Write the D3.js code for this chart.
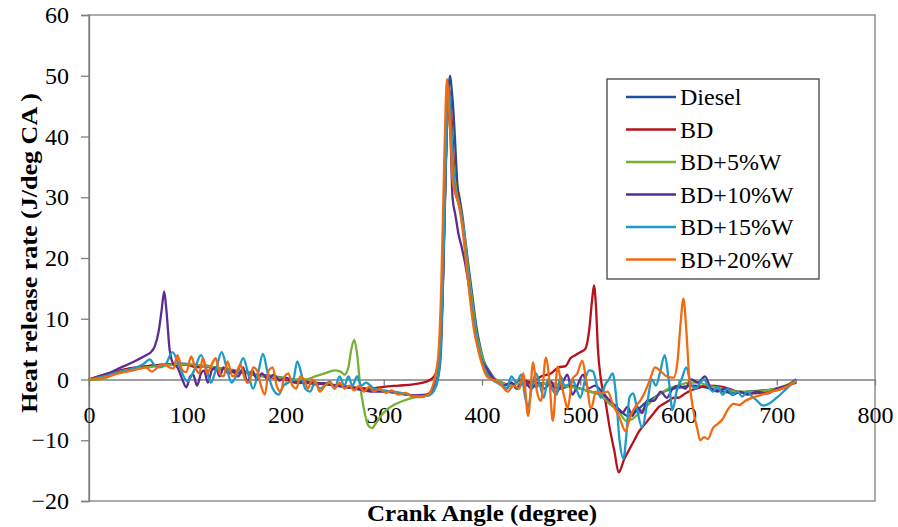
<!DOCTYPE html>
<html lang="en">
  <head>
    <meta charset="utf-8">
    <title>Heat release rate</title>
    <script src="https://cdnjs.cloudflare.com/ajax/libs/d3/7.8.5/d3.min.js"></script>
    <style type="text/css">
      body { margin: 0; background: #fff; }
      svg text { font-family: "Liberation Serif", "Times New Roman", Times, serif; }
    </style>
  </head>
  <body>
    <script type="text/javascript">

    // series: [crank angle, heat release rate]
    var seriesNames = ["Diesel", "BD", "BD+5%W", "BD+10%W", "BD+15%W", "BD+20%W"];
    var seriesColors = ["#1f4e9c", "#b5121b", "#77b035", "#5b2c8f", "#1c9bc9", "#f26a10"];

    var diesel = [[0,0],[10,0.5],[20,1],[35,1.6],[50,2],[65,2.3],[80,2.5],[95,2.6],[110,2.3],[125,2],[140,1.7],[155,1.2],[170,0.8],[185,0.6],[200,0.2],[215,-0.3],[230,-0.5],[245,-0.8],[260,-1.2],[275,-1.6],[290,-1.8],[305,-2],[320,-2.4],[335,-2.7],[345,-2.6],[352,-1.5],[355,0],[358,4],[361,20],[364,40],[366,48],[367.5,50],[369,48],[371,44],[373,38],[375,32],[377,30],[380,27],[383,23],[386,19],[390,14],[394,9],[398,5.5],[402,3],[407,1.5],[412,0.3],[420,-1],[425,-1.5],[430,-0.5],[435,-1.5],[440,-0.5],[445,-1],[450,-0.3],[455,-1.2],[460,-0.6],[470,-1],[480,-1.5],[490,-1],[500,-1.5],[510,-2],[520,-2.5],[530,-4],[540,-5],[548,-6],[555,-5.5],[565,-4],[575,-3],[585,-2],[595,-1.5],[605,-1.2],[615,-1],[625,-1.2],[640,-1.8],[655,-2.2],[670,-2],[685,-1.8],[700,-1.5],[710,-1],[720,0]];

    var bd = [[0,0],[20,1],[40,1.8],[60,2.2],[80,2.5],[100,2.4],[110,2],[120,2.3],[130,1.6],[140,1.8],[150,1],[160,1.3],[170,0.6],[180,0.5],[190,0.2],[200,0],[210,-0.5],[225,-0.6],[240,-0.8],[255,-1],[270,-1.3],[285,-1.5],[300,-1.2],[315,-1],[330,-0.8],[340,-0.5],[348,0],[353,1],[357,5],[360,15],[363,35],[365,45],[366.5,48],[368,46],[370,40],[372,34],[375,31],[378,28],[381,25],[385,19],[389,13],[393,8],[397,5],[402,2.5],[407,1],[413,0],[420,-0.5],[430,-1],[440,0],[450,-0.5],[460,0.5],[470,1],[478,2],[485,2.2],[490,3.5],[495,4],[500,4.5],[505,5],[509,8],[512,13],[514,15.5],[516,12],[518,5],[521,0],[525,-3],[530,-8],[535,-12],[539,-15.3],[545,-13],[550,-11.5],[555,-10],[560,-8.5],[565,-7.5],[570,-6.5],[575,-5.5],[580,-4.5],[585,-4],[590,-3.5],[595,-3],[600,-3],[605,-2.5],[610,-2],[618,-1.5],[630,-1],[645,-1.2],[660,-2],[675,-2.3],[690,-2],[705,-1.5],[720,0]];

    var bd5w = [[0,0],[10,0],[18,0.3],[30,1.2],[50,1.8],[70,2.2],[90,2.5],[105,2.5],[120,2.2],[135,1.8],[150,1.5],[165,1],[180,0.5],[195,0.3],[210,0],[220,0],[230,0.5],[240,1],[250,1.5],[256,1.3],[260,0.8],[264,2],[267,5],[270,6.5],[273,4],[276,-1],[280,-5],[284,-7.5],[288,-8],[292,-7.2],[297,-6],[303,-5],[310,-4.2],[320,-3.5],[330,-3],[340,-2.8],[348,-2.3],[353,-1],[357,3],[360,15],[363,35],[365,43],[367,45],[369,40],[371,35],[374,31],[378,28],[382,24],[386,18],[390,13],[394,8],[398,5],[403,2.5],[408,1],[414,0],[420,-0.5],[430,-1],[440,-0.5],[450,-1],[460,-0.8],[470,-0.5],[480,-1],[490,-1.2],[500,-1.5],[510,-2],[520,-2.5],[530,-4],[540,-5.5],[547,-6.8],[553,-6.5],[560,-5.5],[570,-4],[580,-2.5],[590,-1.5],[600,-1],[610,-0.5],[620,-0.5],[630,-1],[645,-1.5],[660,-2],[675,-2],[690,-1.8],[705,-1.2],[720,-0.3]];

    var bd10w = [[0,0],[10,0.4],[20,1],[30,1.8],[40,2.5],[50,3.3],[58,4],[63,4.5],[67,5.5],[71,8],[74,11.5],[76.5,14.5],[79,11],[82,5],[86,2.5],[90,2],[95,0],[99,-1.3],[103,0.5],[106,0.8],[110,-1],[114,1],[117,1.5],[121,-0.5],[125,1.5],[129,2],[133,0.5],[137,2],[142,1],[147,1.5],[152,0.5],[157,2],[161,-0.5],[166,1.5],[171,0],[176,1],[182,0],[188,0.8],[194,-0.2],[200,0.3],[210,-0.5],[220,-0.3],[230,-0.8],[240,-0.6],[250,-1],[260,-1.2],[270,-1.5],[280,-1.8],[290,-2],[300,-2],[315,-2.3],[330,-2.6],[343,-2.5],[350,-1.5],[354,0],[357,3],[360,15],[363,35],[365,44],[366.5,46],[368,40],[370,30],[373,27],[376,24],[379,22],[383,19],[387,15],[391,10],[395,6],[399,3.5],[404,2],[410,0.5],[416,-0.5],[422,-1],[430,-0.5],[436,-1.5],[443,-0.3],[450,-1.5],[457,-0.5],[464,-1.5],[470,-0.3],[476,-2],[482,-0.5],[487,0.8],[492,-2.5],[497,-1],[503,0.8],[508,-1.5],[515,-1],[522,-2],[530,-3.5],[537,-4.5],[543,-5.5],[548,-4.5],[553,-6],[558,-4.5],[563,-5.5],[568,-3.5],[575,-3.5],[582,-2],[588,-3],[594,-1.5],[600,-1],[607,-1.5],[613,0],[620,-0.5],[627,0.5],[633,-1.5],[640,-2],[647,-1.5],[655,-2.5],[663,-2],[670,-2.5],[680,-2],[690,-2.3],[700,-1.5],[710,-1],[720,-0.5]];

    var bd15w = [[0,0],[15,0.5],[30,1.2],[45,1.8],[55,2.5],[62,3.3],[66,2.5],[72,2],[78,2.5],[85,4.5],[90,3],[95,1],[100,-0.3],[107,1.5],[114,4],[119,2],[124,-0.5],[129,1.5],[135,4.5],[140,2],[145,-0.5],[151,1],[157,3.5],[162,1],[167,-1.5],[172,1],[177,4.2],[182,1],[187,-1.5],[193,-2.5],[198,-1],[203,-0.5],[208,0],[212,3],[216,1],[220,-1.5],[225,-2],[230,-0.5],[235,-1.5],[240,-1],[245,-0.3],[250,-1.5],[255,0.5],[260,-1],[264,0.5],[268,-1],[273,0.5],[277,-1],[282,-0.5],[290,-1.5],[300,-1.8],[310,-2],[320,-2.3],[330,-2.7],[340,-2.8],[348,-2.4],[353,-1],[357,3],[360,15],[363,35],[365,46],[366.5,48],[368,44],[370,36],[373,31],[376,29],[380,26],[384,20],[388,14],[392,9],[396,5.5],[400,3],[405,1],[410,0],[415,-0.5],[420,-0.8],[425,-1.5],[430,0.5],[435,-0.5],[440,0.8],[444,-3],[447,-4.5],[451,-1],[455,1],[459,-1],[463,-3],[467,0],[471,-1.5],[476,-2.5],[480,0.5],[484,-1],[488,-0.8],[492,0],[497,-2],[500,-3],[505,0],[509,1.5],[513,1.3],[517,-1],[521,-3],[525,-1],[529,0],[533,1],[536,-2],[540,-10],[544,-13],[547,-9],[550,-3],[554,-2.3],[558,-5],[563,-8],[568,-4],[573,0],[577,-1],[581,1],[586,4],[590,0],[594,-5],[598,-2],[603,0],[608,2],[613,-1],[618,-1.5],[622,-0.5],[626,0],[630,-1],[635,-2],[640,-1.2],[645,-2.5],[650,-1.5],[655,-2.5],[660,-2],[665,-2.8],[670,-2],[675,-2.8],[680,-3.5],[686,-4.3],[692,-4],[700,-3],[710,-1.5],[720,0]];

    var bd20w = [[0,0],[15,0.3],[30,1],[45,1.5],[58,2],[64,1.3],[70,2],[76,2.5],[82,2],[86,1.8],[90,4],[95,1.5],[99,1.2],[104,3.8],[108,2],[112,1],[116,3.5],[120,1],[125,2.5],[129,3.5],[133,1],[137,0.5],[141,3],[146,0.5],[150,1],[154,2.5],[159,0],[163,-0.5],[167,2],[171,1.5],[175,-1],[179,-2.5],[183,1.5],[187,2],[191,-1],[195,-2],[199,0.5],[203,1],[207,-1],[211,-1.5],[215,0.5],[219,0],[223,-1.5],[227,0],[231,-0.5],[235,-2],[240,-1],[245,-0.5],[250,-1.5],[255,-0.5],[260,-1.5],[265,-1],[270,-1.8],[275,-1],[280,-2],[285,-1.2],[290,-2],[296,-1.5],[302,-2.2],[308,-1.8],[315,-2.5],[322,-2.2],[330,-2.8],[338,-2.8],[345,-2.5],[350,-1],[353,1],[356,5],[358.5,15],[361,32],[363,45],[364.5,49.5],[366,46],[368,40],[370,33],[373,30.5],[376,29],[380,25],[384,19],[388,13],[392,8],[396,5],[400,2.5],[405,0.5],[410,0],[415,-0.3],[420,-1],[426,-2],[432,-1],[438,-1.5],[442,1],[447,-6],[452,2.8],[456,-2],[460,-3.5],[465,3.6],[469,-1],[472,-6.8],[477,2.1],[481,-1],[484,-3],[487,-4.8],[492,0],[497,1],[502,3.1],[506,0],[511,-4.8],[516,-2],[522,-2.3],[528,-2],[533,-4],[540,-6.3],[546,-8.5],[551,-6],[556,-4.5],[561,-3.5],[566,-2],[571,0],[576,2],[581,1.5],[588,0.5],[595,0.3],[599,3],[602,9],[605,13.3],[608,8],[611,0],[615,-5],[619,-8],[622,-10],[626,-9.5],[630,-9.8],[635,-8],[640,-7.3],[645,-6.5],[650,-5],[656,-4],[662,-4.2],[668,-3.5],[675,-3],[685,-2.5],[695,-2],[705,-1.5],[715,-0.8],[720,-0.3]];

    var allSeries = [diesel, bd, bd5w, bd10w, bd15w, bd20w];

    var xTicks = [0, 100, 200, 300, 400, 500, 600, 700, 800];
    var yTicks = [-20, -10, 0, 10, 20, 30, 40, 50, 60];

    //Width and height
    var w = 898;
    var h = 527;
    var plotL = 89, plotR = 875, plotT = 15, plotB = 501;
    var serif = "'Liberation Serif', 'Times New Roman', Times, serif";

    var x = d3.scaleLinear().domain([0, 800]).range([plotL, plotR]);
    var y = d3.scaleLinear().domain([-20, 60]).range([plotB, plotT]);

    var svg = d3.select("body")
                .append("svg")
                .attr("width", w)
                .attr("height", h);

    svg.append("rect")
       .attr("width", w)
       .attr("height", h)
       .attr("fill", "white");

    // plot frame
    svg.append("rect")
       .attr("x", plotL)
       .attr("y", plotT)
       .attr("width", plotR - plotL)
       .attr("height", plotB - plotT)
       .attr("fill", "none")
       .attr("stroke", "#7f7f7f")
       .attr("stroke-width", 1.3);

    // y axis (ticks outside)
    var yAxis = d3.axisLeft(y)
                  .tickValues(yTicks)
                  .tickSize(8)
                  .tickPadding(12)
                  .tickFormat(d3.format("d"));
    var gy = svg.append("g")
                .attr("transform", "translate(" + plotL + ",0)")
                .call(yAxis);
    gy.select(".domain").attr("stroke", "#7f7f7f").attr("stroke-width", 1.3);
    gy.selectAll(".tick line").attr("stroke", "#7f7f7f").attr("stroke-width", 1.3);
    gy.selectAll(".tick text")
      .style("font-family", serif)
      .style("font-size", "24px")
      .attr("fill", "#000");

    // x axis crosses at y = 0
    var xAxis = d3.axisBottom(x)
                  .tickValues(xTicks)
                  .tickSize(6)
                  .tickPadding(20)
                  .tickSizeOuter(0)
                  .tickFormat(d3.format("d"));
    var gx = svg.append("g")
                .attr("transform", "translate(0," + y(0) + ")")
                .call(xAxis);
    gx.select(".domain").attr("stroke", "#7f7f7f").attr("stroke-width", 1.3);
    gx.selectAll(".tick line").attr("stroke", "#7f7f7f").attr("stroke-width", 1.3);
    gx.selectAll(".tick text")
      .style("font-family", serif)
      .style("font-size", "24px")
      .attr("fill", "#000");

    // lines
    var line = d3.line()
                 .x(function(d) { return x(d[0]); })
                 .y(function(d) { return y(d[1]); })
                 .curve(d3.curveMonotoneX);

    svg.append("g")
       .selectAll("path")
       .data(allSeries)
       .enter()
       .append("path")
       .attr("d", line)
       .attr("fill", "none")
       .attr("stroke", function(d, i) { return seriesColors[i]; })
       .attr("stroke-width", 2.3)
       .attr("stroke-linejoin", "round");

    // axis titles
    svg.append("text")
       .text("Crank Angle (degree)")
       .attr("x", 482)
       .attr("y", 521)
       .attr("text-anchor", "middle")
       .attr("textLength", 230)
       .attr("lengthAdjust", "spacingAndGlyphs")
       .style("font-family", serif)
       .style("font-weight", "bold")
       .style("font-size", "24px");

    svg.append("text")
       .text("Heat release rate (J/deg CA )")
       .attr("transform", "translate(37,253) rotate(-90)")
       .attr("text-anchor", "middle")
       .attr("textLength", 320)
       .attr("lengthAdjust", "spacingAndGlyphs")
       .style("font-family", serif)
       .style("font-weight", "bold")
       .style("font-size", "24px");

    // legend
    var lg = svg.append("g");
    lg.append("rect")
      .attr("x", 607)
      .attr("y", 79)
      .attr("width", 212)
      .attr("height", 200)
      .attr("fill", "white")
      .attr("stroke", "#333")
      .attr("stroke-width", 1.2);

    var items = lg.selectAll("g.item")
                  .data(seriesNames)
                  .enter()
                  .append("g")
                  .attr("class", "item")
                  .attr("transform", function(d, i) { return "translate(626," + (97 + i * 32.5) + ")"; });
    items.append("line")
         .attr("x1", 0)
         .attr("x2", 50)
         .attr("stroke", function(d, i) { return seriesColors[i]; })
         .attr("stroke-width", 2.3);
    items.append("text")
         .text(function(d) { return d; })
         .attr("x", 54)
         .attr("dy", "0.35em")
         .style("font-family", serif)
         .style("font-size", "24px");

    </script>
  </body>
</html>
